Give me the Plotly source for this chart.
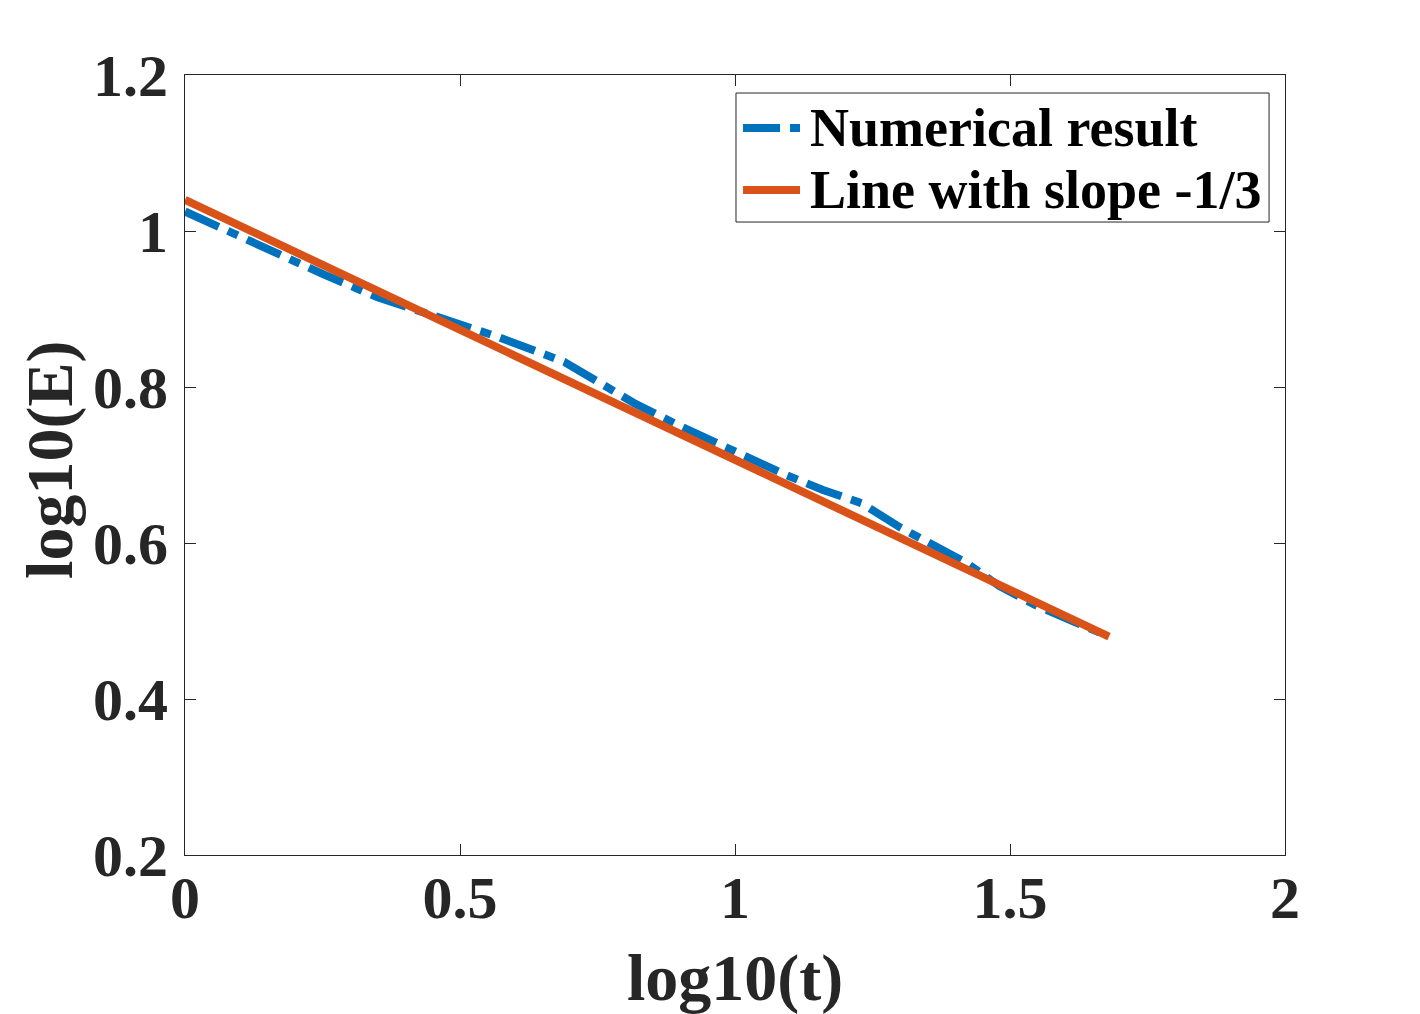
import plotly.graph_objects as go

# Numerical result (blue dash-dot)
t_num = [0.0, 0.1, 0.17, 0.25, 0.35, 0.45, 0.57, 0.69, 0.75, 0.82, 0.9, 0.97,
         1.03, 1.09, 1.16, 1.23, 1.3, 1.36, 1.42, 1.48, 1.55, 1.62, 1.68]
E_num = [1.025, 0.993, 0.969, 0.945, 0.915, 0.893, 0.864, 0.832, 0.808, 0.778, 0.75, 0.727,
         0.706, 0.688, 0.668, 0.651, 0.620, 0.598, 0.575, 0.545, 0.519, 0.498, 0.480]

# Line with slope -1/3 (orange)
t_fit = [0.0, 1.68]
E_fit = [1.04, 0.48]

series_names = ["Numerical result", "Line with slope -1/3"]

x_ticks = [0, 0.5, 1, 1.5, 2]
x_labels = ["0", "0.5", "1", "1.5", "2"]
y_ticks = [0.2, 0.4, 0.6, 0.8, 1.0, 1.2]
y_labels = ["0.2", "0.4", "0.6", "0.8", "1", "1.2"]
x_title = "log10(t)"
y_title = "log10(E)"

FONT = "Liberation Serif"
AX = "#262626"
BLUE = "#0072BD"
ORANGE = "#D95319"
DASHDOT = "37px,10px,11px,10px"

fig = go.Figure()
fig.add_trace(go.Scatter(
    x=t_num, y=E_num, mode="lines", name=series_names[0], showlegend=False,
    line=dict(color=BLUE, width=8, dash=DASHDOT),
))
fig.add_trace(go.Scatter(
    x=t_fit, y=E_fit, mode="lines", name=series_names[1], showlegend=False,
    line=dict(color=ORANGE, width=8),
))

axis_common = dict(
    showgrid=False, zeroline=False, showline=True, linecolor=AX, linewidth=1,
    mirror="ticks", ticks="inside", ticklen=11, tickwidth=1, tickcolor=AX,
    tickfont=dict(family=FONT, size=60, color=AX), automargin=False,
)

# Custom legend (MATLAB style) drawn in paper coordinates
leg_x0, leg_x1, leg_y0, leg_y1 = 0.5009, 0.9855, 0.8115, 0.9769
row_y = [0.9321, 0.8526]
sample_x0, sample_x1, text_x = 0.5073, 0.5591, 0.5664
shapes = [dict(type="rect", xref="paper", yref="paper", x0=leg_x0, x1=leg_x1, y0=leg_y0, y1=leg_y1,
               line=dict(color=AX, width=1), fillcolor="white", layer="above")]
shapes.append(dict(type="line", xref="paper", yref="paper", x0=sample_x0, x1=sample_x1,
                   y0=row_y[0], y1=row_y[0], line=dict(color=BLUE, width=8, dash=DASHDOT), layer="above"))
shapes.append(dict(type="line", xref="paper", yref="paper", x0=sample_x0, x1=sample_x1,
                   y0=row_y[1], y1=row_y[1], line=dict(color=ORANGE, width=8), layer="above"))
annotations = [dict(xref="paper", yref="paper", x=text_x, y=yy, xanchor="left", yanchor="middle",
                    text="<b>%s</b>" % nm, showarrow=False,
                    font=dict(family=FONT, size=54, color="black"))
               for nm, yy in zip(series_names, row_y)]
# Axis titles
annotations.append(dict(xref="paper", yref="paper", x=0.5, y=-0.1577, xanchor="center", yanchor="middle",
                        text="<b>%s</b>" % x_title, showarrow=False,
                        font=dict(family=FONT, size=66, color=AX)))
annotations.append(dict(xref="paper", yref="paper", x=-0.1228, y=0.5064, xanchor="center", yanchor="middle",
                        text="<b>%s</b>" % y_title, showarrow=False, textangle=-90,
                        font=dict(family=FONT, size=66, color=AX)))

fig.update_layout(
    width=1420, height=1014,
    # the page adds an 8px body margin; margins compensate so the plot box lands at 185..1285 x 75..855
    margin=dict(l=177, r=143, t=67, b=167),
    paper_bgcolor="white", plot_bgcolor="white",
    font=dict(family=FONT, color=AX),
    xaxis=dict(range=[0, 2], tickvals=x_ticks, ticktext=["<b>%s</b>" % s for s in x_labels],
               ticklabelstandoff=-10, **axis_common),
    yaxis=dict(range=[0.2, 1.2], tickvals=y_ticks, ticktext=["<b>%s</b>" % s for s in y_labels],
               ticklabelstandoff=4, **axis_common),
    shapes=shapes,
    annotations=annotations,
    showlegend=False,
)

fig.write_html("out.html")
